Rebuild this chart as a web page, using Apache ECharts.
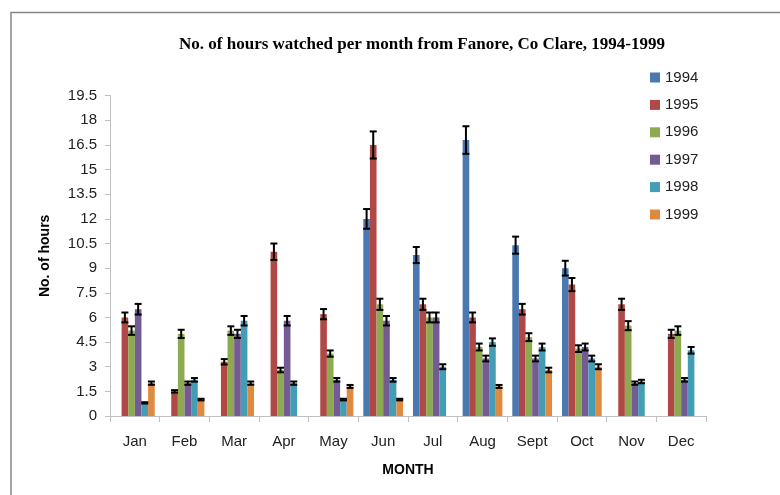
<!DOCTYPE html>
<html>
<head>
<meta charset="utf-8">
<script src="https://cdn.jsdelivr.net/npm/echarts@6/dist/echarts.min.js"></script>
<style>html,body{margin:0;padding:0;background:#fff;}#c{width:780px;height:495px;}</style>
</head>
<body>
<div id="c"></div>
<script>
const months = ['Jan','Feb','Mar','Apr','May','Jun','Jul','Aug','Sept','Oct','Nov','Dec'];
const years = ['1994','1995','1996','1997','1998','1999'];
const v1994 = [null,null,null,null,null,12.0,9.8,16.8,10.4,9.0,null,null];
const v1995 = [6.0,1.5,3.3,10.0,6.2,16.5,6.8,6.0,6.5,8.0,6.8,5.0];
const v1996 = [5.2,5.0,5.2,2.8,3.8,6.8,6.0,4.2,4.8,4.1,5.5,5.2];
const v1997 = [6.5,2.0,5.0,5.8,2.2,5.8,6.0,3.5,3.5,4.2,2.0,2.2];
const v1998 = [0.8,2.2,5.8,2.0,1.0,2.2,3.0,4.5,4.2,3.5,2.1,4.0];
const v1999 = [2.0,1.0,2.0,null,1.8,1.0,null,1.8,2.8,3.0,null,null];
const yTicks = [0,1.5,3,4.5,6,7.5,9,10.5,12,13.5,15,16.5,18,19.5];
const ERR_PCT = 0.05; // Excel percentage error bars
const colors = ['#4A78B0','#B04946','#8DAA50','#755B93','#439DB5','#E08A40'];
const allVals = [v1994,v1995,v1996,v1997,v1998,v1999];
const CAT_GAP = 0.2;

const chart = echarts.init(document.getElementById('c'));
const series = [];
allVals.forEach((vals, idx) => {
  series.push({
    name: years[idx], type: 'bar', data: vals,
    barGap: '0%', barCategoryGap: (CAT_GAP*100)+'%',
    itemStyle: { color: colors[idx] }, z: 2
  });
});
allVals.forEach((vals, idx) => {
  series.push({
    type: 'custom', name: years[idx] + ' err', z: 5, silent: true,
    data: vals.map((v, i) => v == null ? null : [i, v, v * ERR_PCT]).filter(d => d),
    renderItem: function (params, api) {
      const ci = api.value(0), v = api.value(1), e = api.value(2);
      const cw = api.size([1, 0])[0];
      const bw = cw * (1 - CAT_GAP) / years.length;
      const base = api.coord([ci, v]);
      const x = base[0] + (idx - (years.length - 1) / 2) * bw;
      const yt = api.coord([ci, v + e])[1];
      const yb = api.coord([ci, v - e])[1];
      const hw = 3.5;
      const st = { stroke: '#000', lineWidth: 2 };
      return { type: 'group', children: [
        { type: 'line', shape: { x1: x, y1: yt, x2: x, y2: yb }, style: st },
        { type: 'line', shape: { x1: x - hw, y1: yt, x2: x + hw, y2: yt }, style: st },
        { type: 'line', shape: { x1: x - hw, y1: yb, x2: x + hw, y2: yb }, style: st }
      ]};
    },
    encode: { x: 0, y: 1 }
  });
});

chart.setOption({
  animation: false,
  backgroundColor: '#fff',
  color: colors,
  title: {
    text: 'No. of hours watched per month from Fanore, Co Clare, 1994-1999',
    left: 417, top: 31, textAlign: 'center',
    textStyle: { fontFamily: 'Liberation Serif', fontWeight: 'bold', fontSize: 17, color: '#000' }
  },
  legend: {
    data: years, orient: 'vertical', left: 645, top: 65,
    itemWidth: 10, itemHeight: 10, itemGap: 12.4, icon: 'rect',
    textStyle: { fontFamily: 'Liberation Sans', fontSize: 15, color: '#222' }
  },
  grid: { left: 110, right: 74, top: 95.7, bottom: 79, containLabel: false },
  xAxis: {
    type: 'category', data: months,
    name: 'MONTH', nameLocation: 'middle', nameGap: 47,
    nameTextStyle: { fontFamily: 'Liberation Sans', fontWeight: 'bold', fontSize: 14, color: '#000' },
    axisLine: { lineStyle: { color: '#BFBFBF', width: 1 } },
    axisTick: { show: true, length: 6, alignWithLabel: false, lineStyle: { color: '#BFBFBF' } },
    axisLabel: { fontFamily: 'Liberation Sans', fontSize: 15, color: '#222', margin: 18 }
  },
  yAxis: {
    type: 'value', min: yTicks[0], max: yTicks[yTicks.length - 1], interval: 1.5,
    name: 'No. of hours', nameLocation: 'middle', nameGap: 58, nameRotate: 90,
    nameTextStyle: { fontFamily: 'Liberation Sans', fontWeight: 'bold', fontSize: 14, color: '#000' },
    axisLine: { show: true, lineStyle: { color: '#BFBFBF' } },
    axisTick: { show: true, length: 5, lineStyle: { color: '#BFBFBF' } },
    splitLine: { show: false },
    axisLabel: { fontFamily: 'Liberation Sans', fontSize: 15, color: '#222', margin: 13 }
  },
  graphic: [{
    type: 'rect', silent: true, z: -1,
    shape: { x: 11, y: 12.5, width: 800, height: 520 },
    style: { fill: 'none', stroke: '#868686', lineWidth: 1.5 }
  }],
  series: series
});
</script>
</body>
</html>
